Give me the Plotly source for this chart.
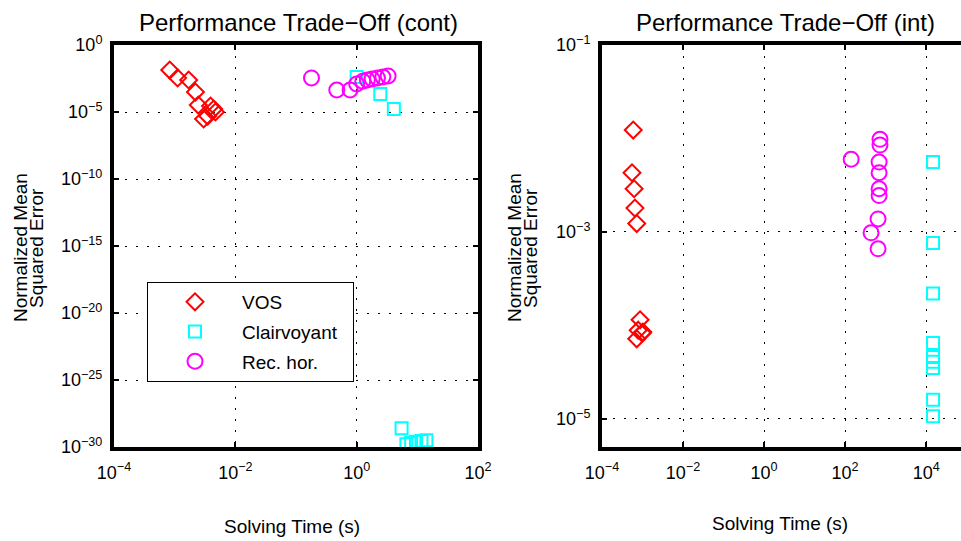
import plotly.graph_objects as go

# ---- data: left panel (cont) ----
cont_vos_t = [8.3e-4, 1.12e-3, 1.7e-3, 2.2e-3, 2.45e-3, 3.9e-3, 4.4e-3, 4.7e-3, 3.0e-3, 3.5e-3]
cont_vos_e = [1.35e-2, 3.5e-3, 2.45e-3, 3.1e-4, 3.3e-5, 2.8e-5, 1.66e-5, 1.0e-5, 3.0e-6, 5.0e-6]
cont_clair_t = [1.0, 2.45, 4.1, 5.5, 6.6, 7.9, 9.5, 11.7, 14.1]
cont_clair_e = [4.1e-3, 2.2e-4, 1.66e-5, 2.5e-29, 1.6e-30, 2.0e-30, 2.5e-30, 2.8e-30, 3.2e-30]
cont_rh_t = [0.18, 0.47, 0.78, 1.0, 1.26, 1.5, 1.8, 2.2, 2.7, 3.3]
cont_rh_e = [3.5e-3, 4.4e-4, 4.4e-4, 1.23e-3, 2.0e-3, 2.45e-3, 2.9e-3, 3.5e-3, 4.1e-3, 4.9e-3]

# ---- data: right panel (int) ----
int_vos_t = [5.9e-4, 5.5e-4, 6.2e-4, 6.5e-4, 7.2e-4, 8.7e-4, 7.8e-4, 9.8e-4, 7.2e-4, 1.02e-3]
int_vos_e = [1.23e-2, 4.3e-3, 2.9e-3, 1.8e-3, 1.23e-3, 1.15e-4, 8.9e-5, 8.3e-5, 7.2e-5, 8.5e-5]
int_clair_t = [1.48e4, 1.48e4, 1.48e4, 1.48e4, 1.48e4, 1.48e4, 1.48e4, 1.48e4, 1.48e4]
int_clair_e = [5.6e-3, 7.6e-4, 2.2e-4, 6.5e-5, 4.6e-5, 4.1e-5, 3.5e-5, 1.6e-5, 1.07e-5]
int_rh_t = [725, 725, 141, 690, 690, 690, 690, 650, 437, 650]
int_rh_e = [9.8e-3, 8.5e-3, 6.0e-3, 5.6e-3, 4.3e-3, 2.9e-3, 2.45e-3, 1.38e-3, 9.8e-4, 6.6e-4]

# tick labels
SUP = '<sup style="font-size:86%">{}</sup>'
left_xticks = [1e-4, 1e-2, 1e0, 1e2]
left_xexp = ["−4", "−2", "0", "2"]
left_yticks = [1e0, 1e-5, 1e-10, 1e-15, 1e-20, 1e-25, 1e-30]
left_yexp = ["0", "−5", "−10", "−15", "−20", "−25", "−30"]
right_xticks = [1e-4, 1e-2, 1e0, 1e2, 1e4]
right_xexp = ["−4", "−2", "0", "2", "4"]
right_yticks = [1e-1, 1e-3, 1e-5]
right_yexp = ["−1", "−3", "−5"]

def lab(exps):
    return ["10" + SUP.format(e) for e in exps]

RED, CYAN, MAG = "#FF0000", "#00FFFF", "#FF00FF"
FONT = "Liberation Sans, Arial, Helvetica, sans-serif"

fig = go.Figure()

def add(x, y, name, sym, col, size, xa, ya, show):
    fig.add_trace(go.Scatter(
        x=x, y=y, mode="markers", name=name, legendgroup=name, showlegend=show,
        marker=dict(symbol=sym, size=size, color=col, line=dict(color=col, width=2)),
        xaxis=xa, yaxis=ya))

add(cont_vos_t, cont_vos_e, "VOS", "diamond-open", RED, 13, "x", "y", True)
add(cont_clair_t, cont_clair_e, "Clairvoyant\u00a0\u00a0", "square-open", CYAN, 12, "x", "y", True)
add(cont_rh_t, cont_rh_e, "Rec. hor.", "circle-open", MAG, 15, "x", "y", True)
add(int_vos_t, int_vos_e, "VOS", "diamond-open", RED, 13, "x2", "y2", False)
add(int_clair_t, int_clair_e, "Clairvoyant\u00a0\u00a0", "square-open", CYAN, 12, "x2", "y2", False)
add(int_rh_t, int_rh_e, "Rec. hor.", "circle-open", MAG, 15, "x2", "y2", False)

W, H = 961, 541
ytop = 1 - 45 / H
ybot = 1 - 447 / H

common = dict(type="log", showline=True, linecolor="black", linewidth=4,
              ticks="inside", ticklen=5, tickwidth=1.5, tickcolor="black",
              showgrid=True, gridcolor="black", gridwidth=1.2, griddash="2px,9px",
              zeroline=False, automargin=False,
              tickfont=dict(size=18, color="black", family=FONT))

fig.update_layout(
    width=W, height=H, margin=dict(l=0, r=0, t=0, b=0, pad=0, autoexpand=False),
    paper_bgcolor="white", plot_bgcolor="white",
    font=dict(family=FONT, color="black"),
    xaxis=dict(domain=[114 / W, 478 / W], range=[-4, 2], anchor="y",
               tickvals=left_xticks, ticktext=lab(left_xexp), mirror="ticks",
               ticklabelstandoff=6, **common),
    yaxis=dict(domain=[ybot, ytop], range=[-30, 0], anchor="x",
               tickvals=left_yticks, ticktext=lab(left_yexp), mirror="ticks",
               ticklabelstandoff=4, **common),
    xaxis2=dict(domain=[602 / W, 1.0], range=[-4, 4.86], anchor="y2",
                tickvals=right_xticks, ticktext=lab(right_xexp), mirror="ticks",
                ticklabelstandoff=6, **common),
    yaxis2=dict(domain=[ybot, ytop], range=[-5.3, -1], anchor="x2",
                tickvals=right_yticks, ticktext=lab(right_yexp), mirror=False,
                ticklabelstandoff=4, **common),
    legend=dict(x=147 / W, y=1 - 282 / H, xanchor="left", yanchor="top",
                bgcolor="white", bordercolor="black", borderwidth=1,
                font=dict(size=19, color="black", family=FONT),
                itemwidth=84, tracegroupgap=2, traceorder="grouped"),
    showlegend=True,
)

ann = [
    dict(text="Performance Trade−Off (cont)", x=298, y=23, size=24, angle=0),
    dict(text="Performance Trade−Off (int)", x=785, y=23, size=24, angle=0),
    dict(text="Solving Time (s)", x=292, y=526, size=19, angle=0),
    dict(text="Solving Time (s)", x=780, y=523, size=19, angle=0),
    dict(text="Normalized Mean", x=20, y=248, size=19, angle=-90),
    dict(text="Squared Error", x=36, y=248, size=19, angle=-90),
    dict(text="Normalized Mean", x=514, y=248, size=19, angle=-90),
    dict(text="Squared Error", x=530, y=248, size=19, angle=-90),
]
for a in ann:
    fig.add_annotation(text=a["text"], x=a["x"] / W, y=1 - a["y"] / H, xref="paper", yref="paper",
                       showarrow=False, textangle=a["angle"], xanchor="center", yanchor="middle",
                       font=dict(size=a["size"], color="black", family=FONT))

fig.write_html("out.html", post_script="document.body.style.margin='0px';")
